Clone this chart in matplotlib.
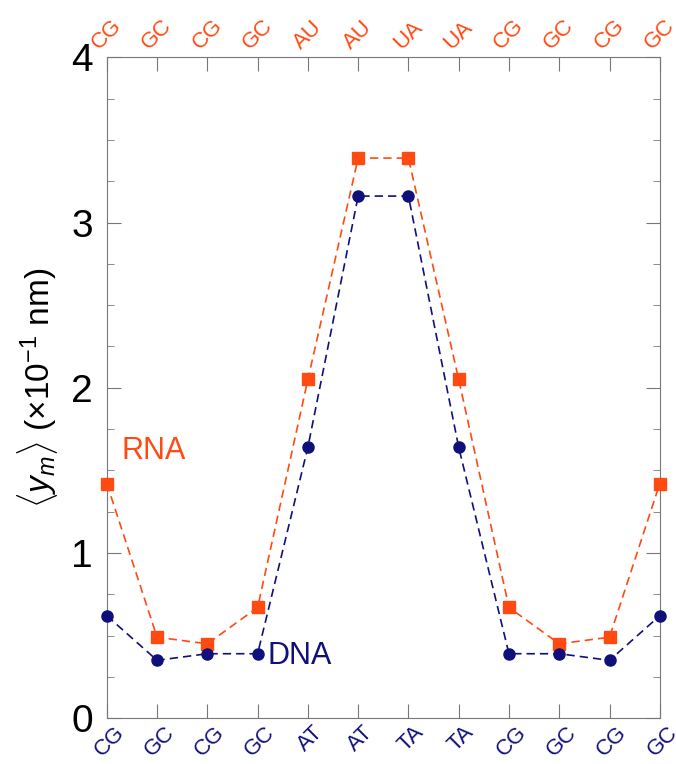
import numpy as np
import matplotlib
matplotlib.use('Agg')
import matplotlib.pyplot as plt
from matplotlib.ticker import MultipleLocator

plt.rcParams['font.family'] = ['Liberation Sans', 'DejaVu Sans']
plt.rcParams['mathtext.fontset'] = 'custom'
plt.rcParams['mathtext.rm'] = 'Liberation Sans'
plt.rcParams['mathtext.it'] = 'Liberation Sans:italic'

# data
dna_pairs = ['CG', 'GC', 'CG', 'GC', 'AT', 'AT', 'TA', 'TA', 'CG', 'GC', 'CG', 'GC']
rna_pairs = ['CG', 'GC', 'CG', 'GC', 'AU', 'AU', 'UA', 'UA', 'CG', 'GC', 'CG', 'GC']
rna_y = [1.42, 0.49, 0.45, 0.67, 2.05, 3.39, 3.39, 2.05, 0.67, 0.45, 0.49, 1.42]
dna_y = [0.62, 0.35, 0.39, 0.39, 1.64, 3.16, 3.16, 1.64, 0.39, 0.39, 0.35, 0.62]

rna_col = '#ff4a12'
dna_col = '#10107a'

x = np.arange(len(dna_pairs))

fig = plt.figure(figsize=(6.76, 7.64), dpi=100)
ax = fig.add_axes([0.158, 0.060, 0.818, 0.865])

ax.plot(x, rna_y, ls='--', color=rna_col, lw=1.2, marker='s', ms=8,
        dashes=(5, 3), clip_on=False, zorder=3)
ax.plot(x, dna_y, ls='--', color=dna_col, lw=1.2, marker='o', ms=8,
        dashes=(5, 3), clip_on=False, zorder=3)

ax.set_xlim(0, 11)
ax.set_ylim(0, 4)
ax.yaxis.set_major_locator(MultipleLocator(1))
ax.yaxis.set_minor_locator(MultipleLocator(0.25))
ax.set_xticks(x)
ax.set_xticklabels([])

ax.tick_params(axis='both', which='both', direction='in', top=True, right=True,
               color='#777777')
ax.tick_params(axis='y', which='major', length=10, labelsize=28, pad=10)
ax.tick_params(axis='y', which='minor', length=5)
ax.tick_params(axis='x', which='major', length=10)

# rotated base-pair labels, DNA below and RNA above
tr = ax.get_xaxis_transform()
for xi, lab in zip(x, dna_pairs):
    ax.text(xi + 0.05, -0.006, lab, transform=tr, rotation=45,
            ha='center', va='top', color=dna_col, fontsize=16, clip_on=False)
for xi, lab in zip(x, rna_pairs):
    ax.text(xi, 1.006, lab, transform=tr, rotation=45,
            ha='center', va='bottom', color=rna_col, fontsize=16, clip_on=False)

for s in ax.spines.values():
    s.set_color('#777777')

ax.set_ylabel(r'$\langle y_m \rangle$ ($\times$10$^{-1}$ nm)', fontsize=24, labelpad=8)

ax.text(0.3, 1.57, 'RNA', color=rna_col, fontsize=22)
ax.text(3.2, 0.33, 'DNA', color=dna_col, fontsize=22)

fig.savefig('out.png', dpi=100)
